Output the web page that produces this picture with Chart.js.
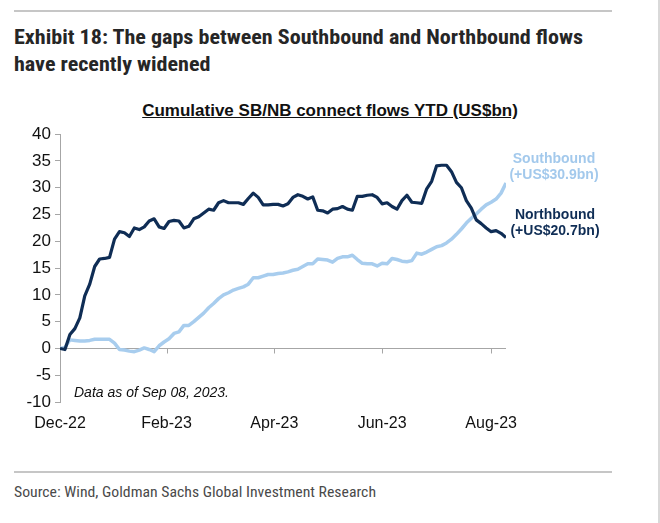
<!DOCTYPE html>
<html>
<head>
<meta charset="utf-8">
<script src="https://cdn.jsdelivr.net/npm/chart.js@4.4.0/dist/chart.umd.min.js"></script>
<style>
body{margin:0;width:660px;height:523px;background:#fff;position:relative;overflow:hidden;font-family:"Liberation Sans",Arial,sans-serif}
.rule{position:absolute;left:14px;width:598px;height:2px;background:#c6c6c6}
.edge{position:absolute;left:658px;top:0;width:2px;height:523px;background:#d9d9d9}
.fit{position:absolute;display:inline-block;white-space:nowrap;transform-origin:left top}
#title{left:14px;top:24px;font-family:"Liberation Sans Narrow","Roboto Condensed",Roboto,sans-serif;font-weight:bold;font-size:20px;line-height:27px;color:#262626}
#source{left:14px;top:483px;font-family:"Liberation Sans Narrow","Roboto Condensed",Roboto,sans-serif;font-size:15px;color:#4a4a4a}
#subtitle{position:absolute;left:0;width:660px;top:101px;text-align:center;font-weight:bold;font-size:17px;text-decoration:underline;color:#111}
.note{position:absolute;font-weight:bold;font-size:14px;line-height:16px;text-align:center;width:140px}
#sbNote{left:484px;top:150px;color:#a3c9ec}
#nbNote{left:485px;top:206px;color:#0f2d55}
#asOf{position:absolute;left:74px;top:384px;font-style:italic;font-size:14px;color:#111}
#wrap{position:absolute;left:0;top:120px;width:660px;height:320px}
</style>
</head>
<body>
<div class="rule" style="top:10px"></div>
<div class="edge"></div>
<div id="title" class="fit" data-fit="569">Exhibit 18: The gaps between Southbound and Northbound flows<br>have recently widened</div>
<div id="subtitle">Cumulative SB/NB connect flows YTD (US$bn)</div>
<div id="wrap"><canvas id="myChart" width="660" height="320"></canvas></div>
<div class="note" id="sbNote">Southbound<br>(+US$30.9bn)</div>
<div class="note" id="nbNote">Northbound<br>(+US$20.7bn)</div>
<div id="asOf">Data as of Sep 08, 2023.</div>
<div class="rule" style="top:471px"></div>
<div id="source" class="fit" data-fit="362">Source: Wind, Goldman Sachs Global Investment Research</div>
<script>
// trading days since 30 Dec 2022, every second day
const tradingDay = [0,2,4,6,8,10,12,14,16,18,20,22,24,26,28,30,32,34,36,38,40,42,44,46,48,50,52,54,56,58,60,62,64,66,68,70,72,74,76,78,80,82,84,86,88,90,92,94,96,98,100,102,104,106,108,110,112,114,116,118,120,122,124,126,128,130,132,134,136,138,140,142,144,146,148,150,152,154,156,158,160,162,164,166,168,170,172,174,176,178,180]
const northbound = [0,-0.2,2.6,3.7,5.7,9.8,12,15.3,16.7,16.8,
  17,20.4,21.8,21.6,20.9,22.5,22.2,22.7,23.8,24.2,
  22.7,22.4,23.7,23.9,23.8,22.5,22.8,24.2,24.6,25.3,
  26,25.8,27.2,27.6,27.2,27.2,27.2,26.9,28,29,
  28.2,26.8,26.8,26.9,26.9,26.6,27,28.2,28.7,28.4,
  27.9,28.3,25.8,25.7,25.3,26,26.1,26.5,26,25.8,
  28.4,28.4,28.6,28.7,28.2,27,27.2,26.5,26,27.6,
  28.6,27.3,27.2,27.1,29.8,31.2,34.1,34.2,34.2,33,
  31,30,27.6,26.2,24,23.3,22.5,21.8,22,21.5,
  20.7]
const southbound = [0,0.2,1.6,1.5,1.4,1.4,1.5,1.7,1.7,1.7,
  1.7,1,-0.2,-0.3,-0.5,-0.6,-0.3,0.1,-0.2,-0.6,
  0.5,1.2,1.8,2.8,3.1,4.3,4.3,5,5.8,6.6,
  7.6,8.4,9.3,10,10.4,10.9,11.2,11.5,12,13.2,
  13.2,13.5,13.8,13.8,14,14.1,14.3,14.6,14.8,15.3,
  15.8,15.8,16.7,16.6,16.5,16.1,16.8,17.1,17.1,17.4,
  16.6,15.9,15.8,15.8,15.4,15.9,15.8,16.8,16.6,16.3,
  16.2,16.4,17.8,17.6,18,18.5,19,19.2,19.7,20.4,
  21.3,22.3,23.4,24.3,25.1,26,26.8,27.3,27.9,29,
  30.9]
const tickDays = [0,43,86.5,130,174]
const tickLabels = ['Dec-22','Feb-23','Apr-23','Jun-23','Aug-23']

const navy = '#0f2d55'
const sky = '#a8cdee'
const axisGrey = '#a6a6a6'

// x axis line sits at zero, labels stay at the bottom
const zeroAxis = {
  id: 'zeroAxis',
  beforeDatasetsDraw(chart) {
    const {ctx, chartArea, scales} = chart
    const y0 = Math.round(scales.y.getPixelForValue(0)) + 0.5
    ctx.save()
    ctx.strokeStyle = axisGrey
    ctx.lineWidth = 1
    ctx.beginPath()
    ctx.moveTo(chartArea.left, y0)
    ctx.lineTo(chartArea.right, y0)
    tickDays.slice(1).forEach(d => {
      const px = Math.round(scales.x.getPixelForValue(d)) + 0.5
      ctx.moveTo(px, y0)
      ctx.lineTo(px, y0 + 5)
    })
    ctx.stroke()
    ctx.restore()
  }
}

const ctx1 = document.getElementById('myChart')
let myChart = new Chart(ctx1, {
  type: 'line',
  data: {
    datasets: [{
      label: 'Northbound',
      data: tradingDay.map((d, i) => ({x: d, y: northbound[i]})),
      borderColor: navy,
      borderWidth: 3.2,
      pointRadius: 0,
      tension: 0,
      borderJoinStyle: 'round'
    }, {
      label: 'Southbound',
      data: tradingDay.map((d, i) => ({x: d, y: southbound[i]})),
      borderColor: sky,
      borderWidth: 3.5,
      pointRadius: 0,
      tension: 0,
      borderJoinStyle: 'round'
    }]
  },
  options: {
    responsive: false,
    animation: false,
    devicePixelRatio: 1,
    layout: {padding: {top: 13, right: 154, bottom: 0, left: 0}},
    plugins: {legend: {display: false}, tooltip: {enabled: false}},
    scales: {
      x: {
        type: 'linear',
        min: 0,
        max: 180,
        grid: {display: false, drawTicks: false},
        border: {display: false},
        afterBuildTicks: (scale) => { scale.ticks = tickDays.map(v => ({value: v})) },
        afterFit: (scale) => { scale.height = 38 },
        ticks: {
          padding: 12,
          maxRotation: 0,
          autoSkip: false,
          color: '#111',
          font: {family: '"Liberation Sans", Arial, sans-serif', size: 16},
          callback: (v, i) => tickLabels[i]
        }
      },
      y: {
        min: -10,
        max: 40,
        grid: {drawOnChartArea: false, drawTicks: true, tickLength: 5, color: axisGrey},
        border: {display: true, color: axisGrey},
        afterFit: (scale) => { scale.width = 60 },
        ticks: {
          stepSize: 5,
          padding: 4,
          color: '#111',
          font: {family: '"Liberation Sans", Arial, sans-serif', size: 17}
        }
      }
    }
  },
  plugins: [zeroAxis]
})

document.querySelectorAll('.fit').forEach(el => {
  const w = el.getBoundingClientRect().width
  el.style.transform = 'scaleX(' + (el.dataset.fit / w) + ')'
})
</script>
</body>
</html>
